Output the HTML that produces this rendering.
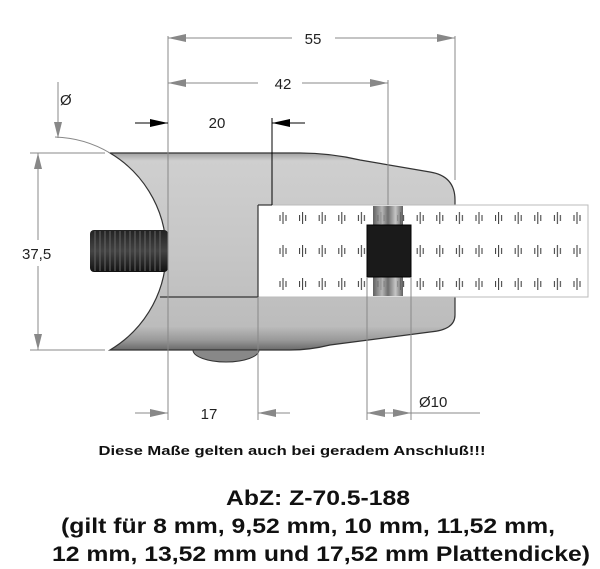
<!DOCTYPE html>
<html><head><meta charset="utf-8"><style>
html,body{margin:0;padding:0;background:#fff;}
svg{display:block;font-family:"Liberation Sans",Arial,sans-serif;}
</style></head><body>
<svg width="600" height="569" viewBox="0 0 600 569" xmlns="http://www.w3.org/2000/svg">
<defs>
<linearGradient id="body" x1="0" y1="0" x2="0" y2="1">
<stop offset="0" stop-color="#a0a0a0"/><stop offset="0.04" stop-color="#cfcfcf"/><stop offset="0.5" stop-color="#c6c6c6"/><stop offset="0.88" stop-color="#bcbcbc"/><stop offset="0.95" stop-color="#999"/><stop offset="1" stop-color="#6a6a6a"/>
</linearGradient>
<linearGradient id="bolt" x1="0" y1="0" x2="0" y2="1">
<stop offset="0" stop-color="#222"/><stop offset="0.5" stop-color="#444"/><stop offset="1" stop-color="#111"/>
</linearGradient>
<linearGradient id="pin" x1="0" y1="0" x2="1" y2="0">
<stop offset="0" stop-color="#444"/><stop offset="0.3" stop-color="#aaa"/><stop offset="0.5" stop-color="#555"/><stop offset="0.75" stop-color="#bbb"/><stop offset="1" stop-color="#444"/>
</linearGradient>
<pattern id="glass" x="278" y="210" width="19.6" height="33" patternUnits="userSpaceOnUse">
<line x1="2" y1="5" x2="2" y2="11" stroke="#333" stroke-width="1"/>
<line x1="5" y1="2" x2="5" y2="14" stroke="#333" stroke-width="1"/>
<line x1="8" y1="5" x2="8" y2="11" stroke="#333" stroke-width="1"/>
</pattern>
</defs>

<path d="M110,153 L300,153 Q330,153 360,160 L430,172 Q455,176 455,200 L455,315 Q455,330 430,332 L330,345 Q310,350 290,350 L110,350 A114.5,114.5 0 0 0 110,153 Z" fill="url(#body)" stroke="#333" stroke-width="1.2"/>
<path d="M193,350 A33,12 0 0 0 259,350 Z" fill="#888" stroke="#333" stroke-width="1"/>
<path d="M55,137 A114.5,114.5 0 0 1 110,153" fill="none" stroke="#888" stroke-width="1"/>
<line x1="160" y1="297" x2="258" y2="297" stroke="#333" stroke-width="1.2"/>
<rect x="258" y="205" width="330" height="92" fill="#fff" stroke="#bbb" stroke-width="1"/>
<line x1="258" y1="205" x2="258" y2="297" stroke="#333" stroke-width="1.2"/>
<line x1="258" y1="205" x2="272" y2="205" stroke="#333" stroke-width="1.2"/>
<rect x="274" y="210" width="310" height="84" fill="url(#glass)"/>
<rect x="373" y="206" width="30" height="90" fill="url(#pin)" opacity="0.85"/>
<rect x="367" y="225" width="44" height="52" fill="#1a1a1a" stroke="#000"/>
<rect x="90" y="230" width="78" height="42" rx="4" fill="url(#bolt)"/>
<g stroke="#666" stroke-width="1">
<line x1="95" y1="231" x2="95" y2="271"/><line x1="100" y1="231" x2="100" y2="271"/><line x1="105" y1="231" x2="105" y2="271"/><line x1="110" y1="231" x2="110" y2="271"/><line x1="115" y1="231" x2="115" y2="271"/><line x1="120" y1="231" x2="120" y2="271"/><line x1="125" y1="231" x2="125" y2="271"/><line x1="130" y1="231" x2="130" y2="271"/><line x1="135" y1="231" x2="135" y2="271"/><line x1="140" y1="231" x2="140" y2="271"/><line x1="145" y1="231" x2="145" y2="271"/><line x1="150" y1="231" x2="150" y2="271"/><line x1="155" y1="231" x2="155" y2="271"/><line x1="160" y1="231" x2="160" y2="271"/>
</g>

<g stroke="#888" stroke-width="1" fill="none">
<line x1="168" y1="36" x2="168" y2="420"/>
<line x1="455" y1="36" x2="455" y2="180"/>
<line x1="388" y1="80" x2="388" y2="205"/>
<line x1="258" y1="297" x2="258" y2="420"/>
<line x1="367" y1="277" x2="367" y2="420"/>
<line x1="411" y1="277" x2="411" y2="420"/>
<line x1="168" y1="38" x2="292" y2="38"/><line x1="335" y1="38" x2="455" y2="38"/>
<line x1="168" y1="83" x2="258" y2="83"/><line x1="302" y1="83" x2="388" y2="83"/>
<line x1="58" y1="82" x2="58" y2="138"/>
<line x1="38" y1="153" x2="38" y2="240"/><line x1="38" y1="266" x2="38" y2="350"/>
<line x1="30" y1="153" x2="105" y2="153"/><line x1="30" y1="350" x2="105" y2="350"/>
<line x1="135" y1="413" x2="168" y2="413"/><line x1="258" y1="413" x2="290" y2="413"/>
<line x1="367" y1="413" x2="480" y2="413"/>
</g>
<g fill="#888">
<polygon points="168,38 186,34 186,42"/><polygon points="455,38 437,34 437,42"/>
<polygon points="168,83 186,79 186,87"/><polygon points="388,83 370,79 370,87"/>
<polygon points="58,138 54,122 62,122"/>
<polygon points="38,153 34,169 42,169"/><polygon points="38,350 34,334 42,334"/>
<polygon points="168,413 150,409 150,417"/><polygon points="258,413 276,409 276,417"/>
<polygon points="367,413 385,409 385,417"/><polygon points="411,413 393,409 393,417"/>
</g>
<g stroke="#000" stroke-width="1" fill="none">
<line x1="135" y1="123" x2="168" y2="123"/><line x1="272" y1="123" x2="305" y2="123"/>
<line x1="272" y1="118" x2="272" y2="205"/>
</g>
<g fill="#000">
<polygon points="168,123 150,119 150,127"/><polygon points="272,123 290,119 290,127"/>
</g>

<g font-size="15" fill="#222">
<text x="313" y="44" text-anchor="middle">55</text>
<text x="283" y="89" text-anchor="middle">42</text>
<text x="217" y="128" text-anchor="middle">20</text>
<text x="60" y="105">Ø</text>
<text x="22" y="259">37,5</text>
<text x="209" y="419" text-anchor="middle">17</text>
<text x="419" y="407">Ø10</text>
</g>

<g font-weight="bold" fill="#111" text-anchor="middle">
<text x="292" y="455" font-size="13" textLength="387" lengthAdjust="spacingAndGlyphs">Diese Maße gelten auch bei geradem Anschluß!!!</text>
<text x="318" y="505" font-size="21" textLength="184" lengthAdjust="spacingAndGlyphs">AbZ: Z-70.5-188</text>
<text x="308" y="533" font-size="21" textLength="494" lengthAdjust="spacingAndGlyphs">(gilt für 8 mm, 9,52 mm, 10 mm, 11,52 mm,</text>
<text x="321" y="561" font-size="21" textLength="538" lengthAdjust="spacingAndGlyphs">12 mm, 13,52 mm und 17,52 mm Plattendicke)</text>
</g>
</svg>
</body></html>
